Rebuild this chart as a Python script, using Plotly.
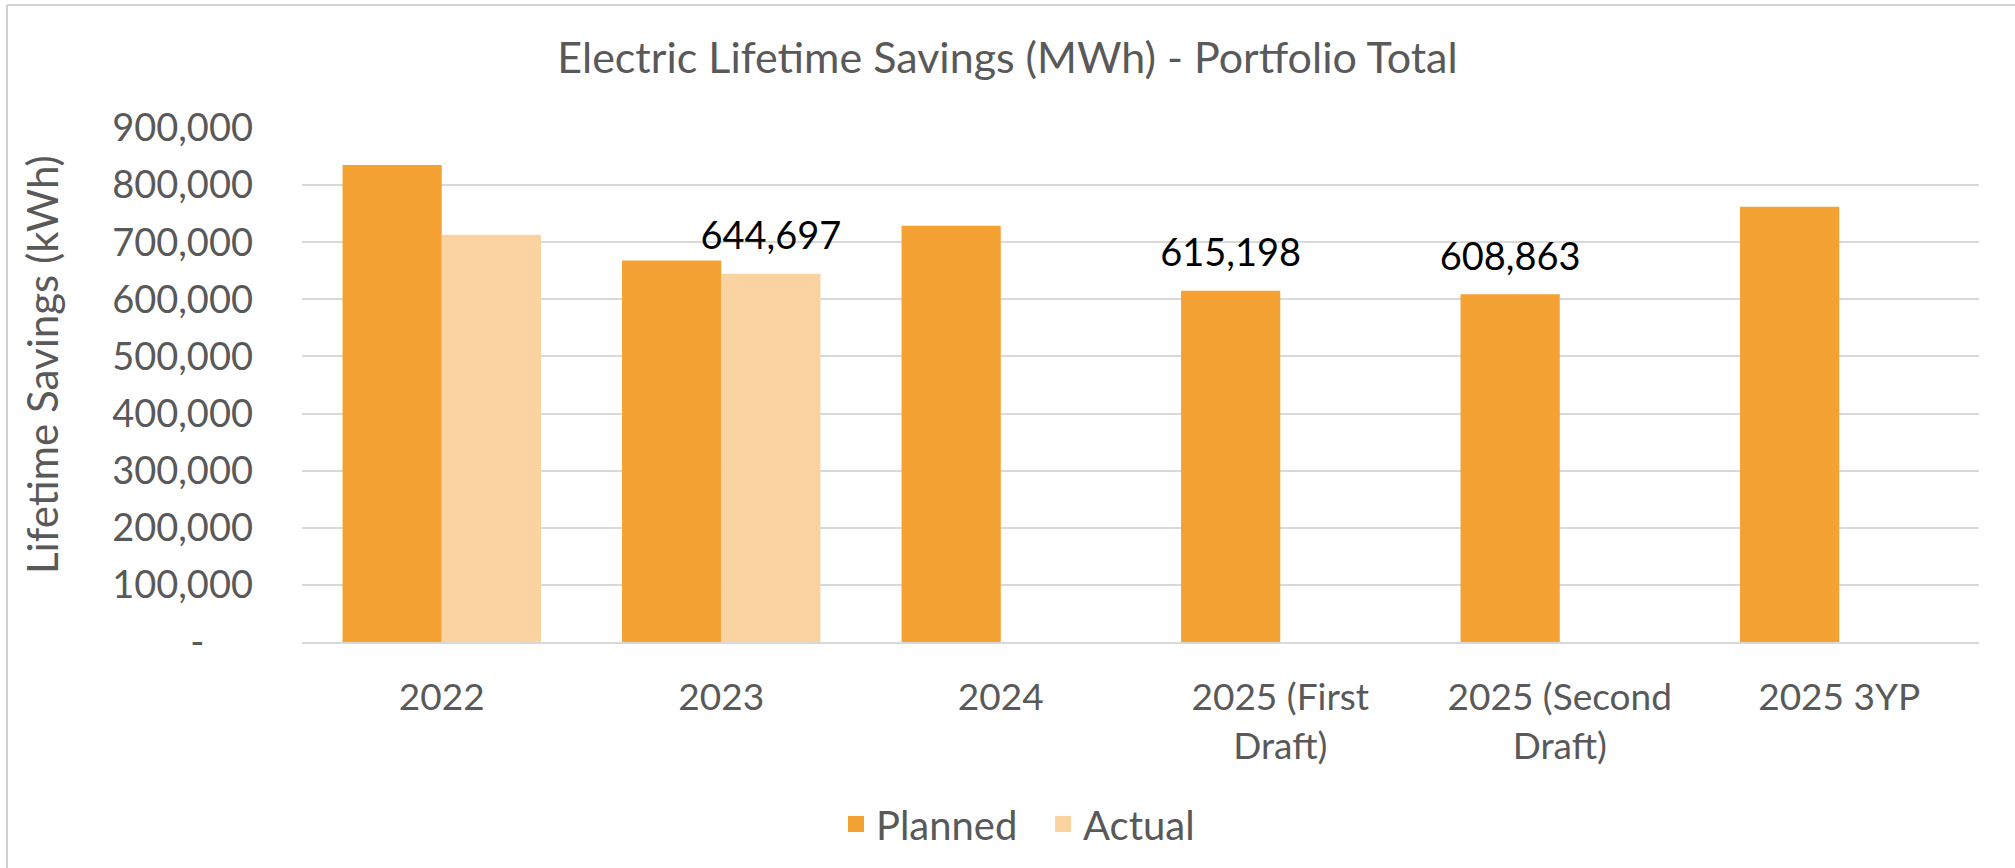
import plotly.graph_objects as go

categories = ["2022", "2023", "2024", "2025 (First<br>Draft)", "2025 (Second<br>Draft)", "2025 3YP"]
planned = [835000, 668000, 729000, 615198, 608863, 762000]
actual = [713000, 644697, None, None, None, None]
planned_labels = ["", "", "", "615,198", "608,863", ""]
actual_labels = ["", "644,697", "", "", "", ""]
series_names = ["Planned", "Actual"]
series_colors = ["#F4A233", "#FAD3A0"]
y_tickvals = [0, 100000, 200000, 300000, 400000, 500000, 600000, 700000, 800000, 900000]
y_ticktext = ["-\u00a0\u00a0\u00a0\u00a0\u00a0", "100,000", "200,000", "300,000", "400,000", "500,000",
              "600,000", "700,000", "800,000", "900,000"]

FONT = "Lato, 'Open Sans', sans-serif"
GREY = "#595959"
LABEL_PAD = 24000  # spacing between bar top and its data label (style, in axis units)

fig = go.Figure()
for name, vals, color in zip(series_names, [planned, actual], series_colors):
    fig.add_trace(go.Bar(
        name=name, x=categories, y=vals, marker_color=color,
        marker_line_width=0, offsetgroup=name, legendgroup=name, showlegend=False,
    ))
# data labels: transparent spacer bars in the same slot, text outside
for name, vals, labels in zip(series_names, [planned, actual], [planned_labels, actual_labels]):
    fig.add_trace(go.Bar(
        name=name, x=categories,
        y=[LABEL_PAD if (v is not None and t) else None for v, t in zip(vals, labels)],
        base=[v if v is not None else 0 for v in vals],
        text=labels, textposition="outside", constraintext="none",
        marker_color="rgba(0,0,0,0)", marker_line_width=0, offsetgroup=name,
        showlegend=False, hoverinfo="skip", cliponaxis=False,
        textfont=dict(family=FONT, size=38, color="#000000"),
    ))
# legend entries (square swatches)
for name, color in zip(series_names, series_colors):
    fig.add_trace(go.Scatter(
        name=name, x=[None], y=[None], mode="markers", legendgroup=name,
        marker=dict(symbol="square", size=24, color=color),
    ))

L, R, T, B = 302, 36, 128, 226
W, H = 2015, 868
pw, ph = W - L - R, H - T - B

def px_x(px):
    return (px - L) / pw

def px_y(py):
    return (H - B - py) / ph

fig.update_layout(
    width=W, height=H,
    margin=dict(l=L, r=R, t=T, b=B, autoexpand=False),
    paper_bgcolor="white", plot_bgcolor="white",
    barmode="group", bargap=0.29, bargroupgap=0,
    font=dict(family=FONT, color=GREY),
    title=dict(text="Electric Lifetime Savings (MWh) - Portfolio Total",
               x=0.5, xanchor="center", y=1 - 58 / H, yanchor="middle",
               font=dict(family=FONT, size=43, color=GREY)),
    legend=dict(orientation="h", x=px_x(836), xanchor="left", y=px_y(824), yanchor="middle",
                font=dict(family=FONT, size=40, color=GREY), itemsizing="trace",
                entrywidth=162, entrywidthmode="pixels", traceorder="normal"),
    xaxis=dict(showgrid=False, showline=True, linecolor="#D9D9D9", linewidth=2,
               ticks="", tickfont=dict(family=FONT, size=37, color=GREY),
               ticklabelstandoff=22),
    yaxis=dict(range=[0, 900000], tickvals=y_tickvals, ticktext=y_ticktext,
               showgrid=True, gridcolor="#D9D9D9", gridwidth=2, zeroline=False,
               showline=False, ticks="", tickfont=dict(family=FONT, size=38, color=GREY),
               ticklabelstandoff=48),
    annotations=[dict(text="Lifetime Savings (kWh)", textangle=-90, xref="paper", yref="paper",
                      x=px_x(42), y=px_y(365), xanchor="center", yanchor="middle",
                      showarrow=False, font=dict(family=FONT, size=42, color=GREY))],
    shapes=[
        dict(type="line", xref="paper", yref="paper",
             x0=px_x(7), x1=px_x(7), y0=px_y(868), y1=px_y(5),
             line=dict(color="#D0D0D0", width=2), layer="below"),
        dict(type="line", xref="paper", yref="paper",
             x0=px_x(7), x1=px_x(2015), y0=px_y(5), y1=px_y(5),
             line=dict(color="#D0D0D0", width=2), layer="below"),
    ],
)

fig.write_html("out.html", config={"displayModeBar": False},
               post_script="document.body.style.margin='0';")
